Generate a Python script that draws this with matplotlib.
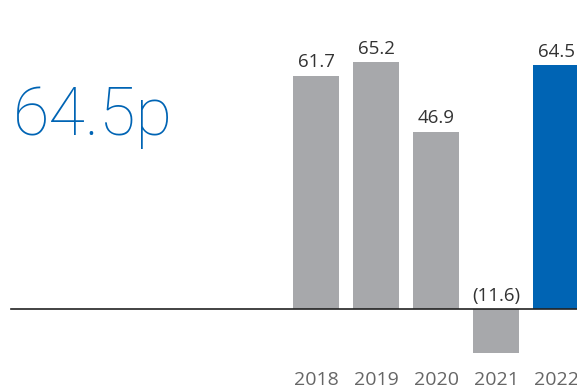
import matplotlib
matplotlib.use("Agg")
import matplotlib.pyplot as plt

years = ["2018", "2019", "2020", "2021", "2022"]
values = [61.7, 65.2, 46.9, -11.6, 64.5]
labels = ["61.7", "65.2", "46.9", "(11.6)", "64.5"]
headline = "64.5p"

grey = "#a7a8ab"
blue = "#0064b4"
colors = [grey, grey, grey, grey, blue]

plt.rcParams["font.family"] = ["Open Sans", "DejaVu Sans"]

fig = plt.figure(figsize=(5.77, 3.85), dpi=100)
ax = fig.add_axes([0, 0, 1, 1])
ax.set_xlim(-5.267, 4.35)
ax.set_ylim(-20.1, 81.7)
ax.axis("off")

x = list(range(len(years)))
ax.bar(x, values, width=0.767, color=colors, zorder=2)
ax.axhline(0, xmin=0.019, xmax=1, color="#222222", lw=1.2, zorder=3)

for xi, v, lab in zip(x, values, labels):
    y = max(v, 0)
    ax.annotate(lab, (xi, y), xytext=(0, 3), textcoords="offset points",
                ha="center", va="bottom", fontsize=13.5, color="#333333")

# year labels sit at the bottom edge and run off it
for xi, yr in zip(x, years):
    ax.annotate(yr, (xi, -20.1), xytext=(0, 10), textcoords="offset points",
                ha="center", va="top", fontsize=14, color="#666666",
                annotation_clip=False)

fig.text(0.022, 0.649, headline, fontsize=48, color=blue,
         family=["Roboto", "DejaVu Sans"], fontweight="light",
         ha="left", va="baseline")

fig.savefig("out.png", dpi=100)
